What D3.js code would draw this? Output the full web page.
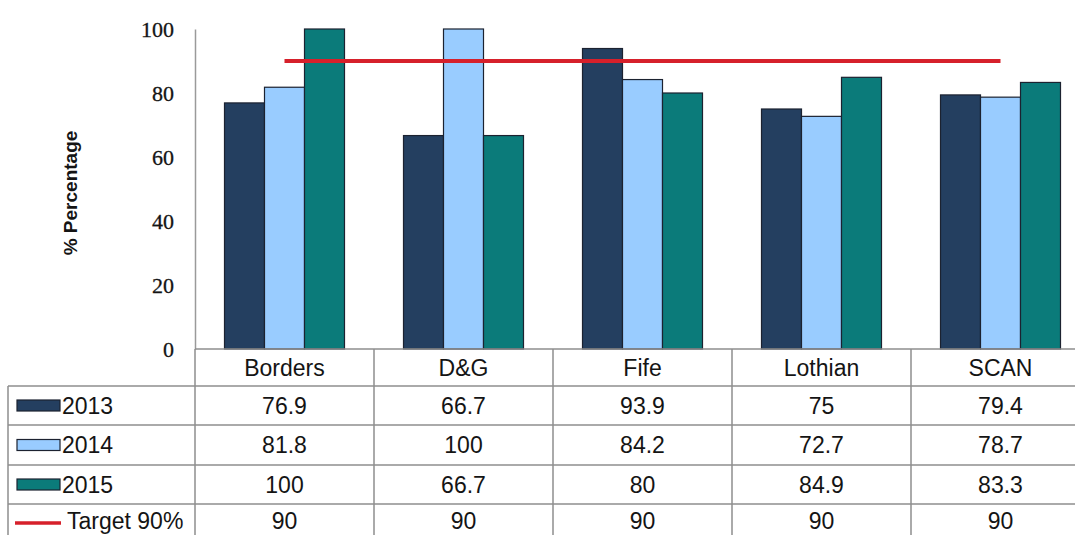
<!DOCTYPE html>
<html>
<head>
<meta charset="utf-8">
<script src="https://cdn.jsdelivr.net/npm/d3@7"></script>
<style>
  html, body { margin: 0; padding: 0; background: #fff; }
  svg { display: block; }
</style>
</head>
<body>
<svg id="chart" width="1075" height="535"></svg>
<script>
const categories = ["Borders", "D&G", "Fife", "Lothian", "SCAN"];
const seriesNames = ["2013", "2014", "2015"];
const values2013 = [76.9, 66.7, 93.9, 75, 79.4];
const values2014 = [81.8, 100, 84.2, 72.7, 78.7];
const values2015 = [100, 66.7, 80, 84.9, 83.3];
const targetName = "Target 90%";
const targetValues = [90, 90, 90, 90, 90];
const yTicks = [0, 20, 40, 60, 80, 100];
const yTitle = "% Percentage";

const seriesValues = [values2013, values2014, values2015];
const colors = ["#243f60", "#99ccff", "#0b7b7a"];
const barStroke = "#1c2230";
const gridColor = "#8e8e8e";
const textColor = "#141414";

const svg = d3.select("#chart");

const plotLeft = 195, colW = 179;
const x = d3.scaleBand().domain(categories).range([plotLeft, plotLeft + colW * categories.length]).padding(0);
const xs = d3.scaleBand().domain(seriesNames).range([0, x.bandwidth()]).paddingInner(0).paddingOuter(0.7375);
const y = d3.scaleLinear().domain([0, 100]).range([349, 29]);

// Y axis
const yAxis = d3.axisLeft(y).tickValues(yTicks).tickSize(0).tickPadding(21).tickFormat(d3.format("d"));
const ga = svg.append("g").attr("transform", `translate(${plotLeft},0)`).call(yAxis);
ga.select(".domain").attr("stroke", "#9a9a9a").attr("stroke-width", 1.5);
ga.selectAll("text")
  .attr("font-family", "'Liberation Serif', 'Times New Roman', serif")
  .attr("font-size", 22)
  .attr("fill", textColor)
  .attr("stroke", textColor)
  .attr("stroke-width", 0.3)
  .attr("dy", "0.34em");

svg.append("text")
  .attr("transform", `translate(77,${(29 + 349) / 2 + 4}) rotate(-90)`)
  .attr("text-anchor", "middle")
  .attr("font-family", "'Liberation Sans', Arial, sans-serif")
  .attr("font-weight", "bold")
  .attr("font-size", 19)
  .attr("fill", textColor)
  .text(yTitle);

// Bars
seriesNames.forEach((s, si) => {
  svg.append("g").selectAll("rect")
    .data(categories.map((c, i) => ({ c, v: seriesValues[si][i] })))
    .join("rect")
    .attr("x", d => x(d.c) + xs(s))
    .attr("width", xs.bandwidth())
    .attr("y", d => y(d.v))
    .attr("height", d => y(0) - y(d.v))
    .attr("fill", colors[si])
    .attr("stroke", barStroke)
    .attr("stroke-width", 1.2);
});

// Target line
const line = d3.line().x((d, i) => x(categories[i]) + x.bandwidth() / 2).y(d => y(d));
svg.append("path")
  .attr("d", line(targetValues))
  .attr("fill", "none")
  .attr("stroke", "#d6202b")
  .attr("stroke-width", 4);

// Data table
const rowTops = [349, 386, 425, 465, 504, 543];
const tableLeft = 8;
const tableRight = plotLeft + colW * categories.length;
const tg = svg.append("g");

tg.append("line").attr("x1", plotLeft).attr("x2", tableRight).attr("y1", rowTops[0]).attr("y2", rowTops[0]);
rowTops.slice(1).forEach(yy => {
  tg.append("line").attr("x1", tableLeft).attr("x2", tableRight).attr("y1", yy).attr("y2", yy);
});
tg.append("line").attr("x1", tableLeft).attr("x2", tableLeft).attr("y1", rowTops[1]).attr("y2", rowTops[5]);
categories.forEach(c => {
  tg.append("line").attr("x1", x(c)).attr("x2", x(c)).attr("y1", rowTops[0]).attr("y2", rowTops[5]);
});
tg.append("line").attr("x1", tableRight).attr("x2", tableRight).attr("y1", rowTops[0]).attr("y2", rowTops[5]);
tg.selectAll("line").attr("stroke", gridColor).attr("stroke-width", 1.5);

const fontSans = "'Liberation Sans', Arial, sans-serif";
function rowCenter(r) {
  const c = (rowTops[r] + rowTops[r + 1]) / 2;
  return r === 4 ? 521 : c;
}
function cellText(cx, rowIdx, txt, anchor) {
  svg.append("text")
    .attr("x", cx).attr("y", rowCenter(rowIdx))
    .attr("dy", "0.36em")
    .attr("text-anchor", anchor || "middle")
    .attr("font-family", fontSans)
    .attr("font-size", 23)
    .attr("fill", textColor)
    .text(txt);
}

categories.forEach(c => cellText(x(c) + x.bandwidth() / 2, 0, c));
seriesNames.forEach((s, si) => {
  const r = si + 1;
  const cy = rowCenter(r);
  svg.append("rect")
    .attr("x", 17).attr("y", cy - 5.5).attr("width", 43).attr("height", 11)
    .attr("fill", colors[si]).attr("stroke", barStroke).attr("stroke-width", 1.2);
  cellText(62, r, s, "start");
  categories.forEach((c, i) => cellText(x(c) + x.bandwidth() / 2, r, String(seriesValues[si][i])));
});
{
  const r = 4;
  const cy = rowCenter(r) + 2;
  svg.append("line").attr("x1", 15).attr("x2", 61).attr("y1", cy).attr("y2", cy)
    .attr("stroke", "#d6202b").attr("stroke-width", 3.5);
  cellText(67, r, targetName, "start");
  categories.forEach((c, i) => cellText(x(c) + x.bandwidth() / 2, r, String(targetValues[i])));
}
</script>
</body>
</html>
